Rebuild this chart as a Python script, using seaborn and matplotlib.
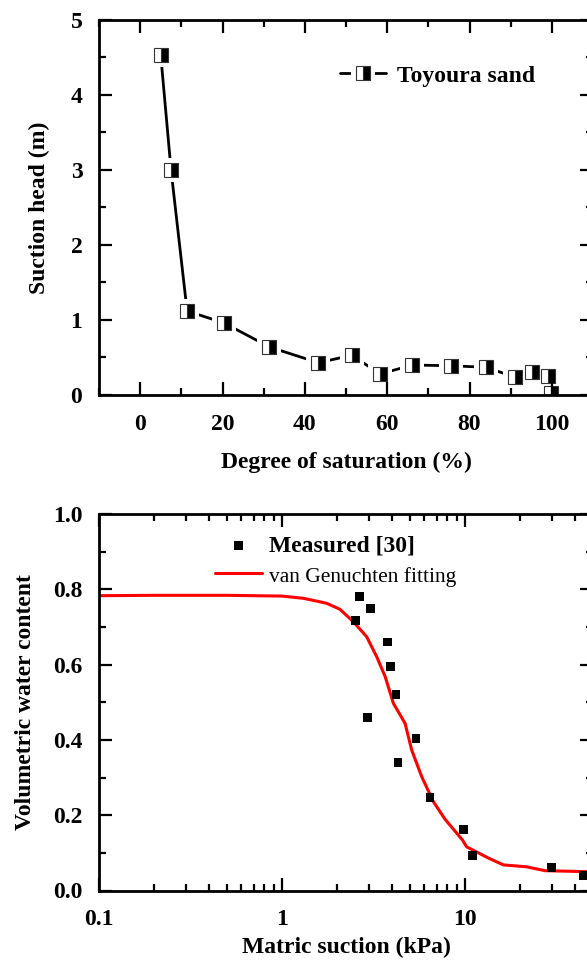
import matplotlib
matplotlib.use('Agg')
import matplotlib.pyplot as plt
import seaborn as sns
import pandas as pd
from matplotlib.ticker import MultipleLocator, LogLocator, NullFormatter, FixedLocator

# ---------------- data ----------------
saturation = [5.0, 7.5, 11.4, 20.4, 31.4, 43.3, 51.4, 58.3, 66.1, 75.4, 83.9, 91.0, 95.1, 99.1, 99.7]
suction_head = [4.53, 3.00, 1.12, 0.96, 0.64, 0.43, 0.53, 0.28, 0.40, 0.39, 0.37, 0.24, 0.30, 0.25, 0.02]

measured_suction = [2.64, 3.05, 2.53, 3.78, 3.93, 4.20, 2.93, 5.40, 4.30, 6.44, 9.81, 11.0, 29.8, 44.3]
measured_vwc = [0.780, 0.748, 0.717, 0.660, 0.594, 0.520, 0.460, 0.404, 0.340, 0.248, 0.161, 0.093, 0.062, 0.039]

fit_suction = [0.1, 0.2, 0.5, 1.0, 1.31, 1.75, 2.07, 2.45, 2.90, 3.29, 3.66, 4.06, 4.70, 5.11,
               5.80, 6.71, 7.78, 9.68, 10.2, 13.5, 16.2, 21.6, 27.4, 46.3, 50.0]
fit_vwc = [0.783, 0.784, 0.784, 0.782, 0.776, 0.763, 0.747, 0.714, 0.674, 0.621, 0.568, 0.497, 0.444, 0.373,
           0.302, 0.236, 0.189, 0.134, 0.116, 0.0855, 0.068, 0.063, 0.0526, 0.050, 0.050]

x1_ticks = [0, 20, 40, 60, 80, 100]
y1_ticks = [0, 1, 2, 3, 4, 5]
x2_ticks = [0.1, 1, 10]
x2_ticklabels = ['0.1', '1', '10']
y2_ticks = [0.0, 0.2, 0.4, 0.6, 0.8, 1.0]
y2_ticklabels = ['0.0', '0.2', '0.4', '0.6', '0.8', '1.0']

# ---------------- style ----------------
sns.set_style('ticks')
plt.rcParams['font.family'] = ['Liberation Serif', 'DejaVu Serif']
plt.rcParams['font.weight'] = 'bold'
plt.rcParams['axes.labelweight'] = 'bold'
plt.rcParams['axes.linewidth'] = 2.0
plt.rcParams['axes.edgecolor'] = 'black'
plt.rcParams['text.color'] = 'black'
plt.rcParams['axes.labelcolor'] = 'black'
plt.rcParams['xtick.color'] = 'black'
plt.rcParams['ytick.color'] = 'black'

FS = 17

W, H = 587, 960
fig = plt.figure(figsize=(W / 100, H / 100), dpi=100)
fig.patch.set_facecolor('white')

ax1 = fig.add_axes([99 / W, 1 - 395 / H, 494 / W, 375 / H])
ax2 = fig.add_axes([99 / W, 1 - 890.5 / H, 494 / W, 376.5 / H])


def style_ticks(ax):
    ax.set_axisbelow(False)
    ax.tick_params(which='both', direction='in', top=True, right=True, colors='black', width=1.6)
    ax.tick_params(which='major', length=9.5, labelsize=FS, labelcolor='black')
    ax.tick_params(which='minor', length=5)
    ax.tick_params(axis='x', which='major', pad=13.5)
    ax.tick_params(axis='y', which='major', pad=12)
    for s in ax.spines.values():
        s.set_linewidth(2.0)
        s.set_color('black')
    for lab in ax.get_xticklabels() + ax.get_yticklabels():
        lab.set_fontweight('bold')


# ---------------- top panel ----------------
df1 = pd.DataFrame({'S': saturation, 'h': suction_head})
sns.lineplot(data=df1, x='S', y='h', ax=ax1, color='black', lw=2.0, estimator=None, sort=False)
line_art = ax1.lines[-1]
sns.lineplot(data=df1, x='S', y='h', ax=ax1, estimator=None, sort=False, linestyle='',
             marker='s', markersize=17, markerfacecolor='white', markeredgecolor='white',
             markeredgewidth=0, color='white')
halo_art = ax1.lines[-1]
sns.lineplot(data=df1, x='S', y='h', ax=ax1, estimator=None, sort=False, linestyle='',
             marker='s', markersize=10, fillstyle='right', markerfacecolor='black',
             markerfacecoloralt='white', markeredgecolor='#333333', markeredgewidth=0.8, color='black')
mark_art = ax1.lines[-1]

ax1.set_xlim(-10, 110)
ax1.set_ylim(0, 5)
ax1.xaxis.set_major_locator(FixedLocator(x1_ticks))
ax1.xaxis.set_minor_locator(MultipleLocator(10))
ax1.yaxis.set_major_locator(FixedLocator(y1_ticks))
ax1.yaxis.set_minor_locator(MultipleLocator(0.5))
ax1.set_xticklabels([str(v) for v in x1_ticks])
ax1.set_yticklabels([str(v) for v in y1_ticks])
ax1.set_xlabel('Degree of saturation (%)', fontsize=FS, fontweight='bold', labelpad=12)
ax1.set_ylabel('Suction head (m)', fontsize=FS, fontweight='bold', labelpad=15)
style_ticks(ax1)

leg1 = ax1.legend(handles=[(line_art, halo_art, mark_art)], labels=['Toyoura sand'],
                  loc='center left', bbox_to_anchor=((340 - 99) / 494, (395 - 76) / 375),
                  frameon=False, borderpad=0, borderaxespad=0, handlelength=1.95,
                  handletextpad=0.45, prop={'size': FS, 'weight': 'bold'})

# ---------------- bottom panel ----------------
ax2.set_xscale('log')
df_fit = pd.DataFrame({'psi': fit_suction, 'theta': fit_vwc})
df_meas = pd.DataFrame({'psi': measured_suction, 'theta': measured_vwc})
sns.lineplot(data=df_fit, x='psi', y='theta', ax=ax2, color='#ff0000', lw=2.2,
             estimator=None, sort=False, label='van Genuchten fitting', zorder=2)
sns.scatterplot(data=df_meas, x='psi', y='theta', ax=ax2, marker='s', s=40, color='black',
                edgecolor='none', linewidth=0, label='Measured [30]', zorder=3)

ax2.set_xlim(0.1, 50)
ax2.set_ylim(0, 1.0)
ax2.xaxis.set_major_locator(FixedLocator(x2_ticks))
ax2.xaxis.set_minor_locator(LogLocator(base=10, subs=[2, 3, 4, 5, 6, 7, 8, 9], numticks=20))
ax2.xaxis.set_minor_formatter(NullFormatter())
ax2.set_xticklabels(x2_ticklabels)
ax2.yaxis.set_major_locator(FixedLocator(y2_ticks))
ax2.yaxis.set_minor_locator(MultipleLocator(0.1))
ax2.set_yticklabels(y2_ticklabels)
ax2.set_xlabel('Matric suction (kPa)', fontsize=FS, fontweight='bold', labelpad=5)
ax2.set_ylabel('Volumetric water content', fontsize=FS, fontweight='bold', labelpad=12)
style_ticks(ax2)

h, l = ax2.get_legend_handles_labels()
order = [l.index('Measured [30]'), l.index('van Genuchten fitting')]
leg2 = ax2.legend([h[i] for i in order], [l[i] for i in order],
                  loc='upper left', bbox_to_anchor=((215 - 99) / 494, (890.5 - 535) / 376.5),
                  frameon=False, borderpad=0, borderaxespad=0, handlelength=2.0,
                  handletextpad=0.3, labelspacing=0.36, prop={'size': FS, 'weight': 'bold'})
t2 = leg2.get_texts()[1]
t2.set_fontweight('normal')
t2.set_fontsize(15.5)

fig.savefig('out.png', dpi=100, facecolor='white')
